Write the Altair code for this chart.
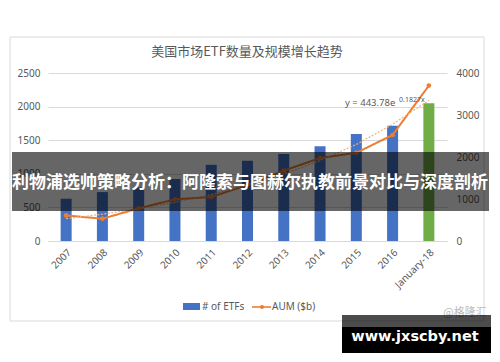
import altair as alt
import pandas as pd

categories = ["2007", "2008", "2009", "2010", "2011", "2012", "2013", "2014", "2015", "2016", "January-18"]
etfs = [629, 728, 797, 923, 1134, 1194, 1294, 1411, 1594, 1716, 2049]
aum = [608, 531, 777, 992, 1048, 1337, 1675, 1975, 2100, 2524, 3700]
trend = [532, 639, 767, 921, 1106, 1328, 1595, 1915, 2299, 2780, 3350]
bar_colors = ["#4472C4"] * 10 + ["#70AD47"]

df = pd.DataFrame({"cat": categories, "etfs": etfs, "aum": aum, "trend": trend, "color": bar_colors})
one = pd.DataFrame({"k": [0]})

FONT = "Noto Sans"
GRAY = "#595959"

xenc = alt.X("cat:N", sort=categories, title=None,
             scale=alt.Scale(paddingInner=0, paddingOuter=0),
             axis=alt.Axis(labelAngle=-45, labelColor=GRAY, labelFontSize=10, labelFont=FONT,
                           domainColor="#D9D9D9", ticks=False, labelPadding=6, grid=False))

bars = alt.Chart(df).mark_bar(size=11).encode(
    x=xenc,
    y=alt.Y("etfs:Q", title=None, scale=alt.Scale(domain=[0, 2500], nice=False),
            axis=alt.Axis(orient="left", values=[0, 500, 1000, 1500, 2000, 2500], format="d",
                          labelColor=GRAY, labelFontSize=10, labelFont=FONT, domain=False, ticks=False,
                          labelPadding=8, gridColor="#D9D9D9", grid=True)),
    color=alt.Color("color:N", scale=None),
)

right = alt.Chart(df).transform_fold(["aum", "trend"], as_=["series", "val"])

rax = alt.Axis(orient="right", values=list(range(0, 4001, 500)), format="d", labelColor=GRAY,
               labelFontSize=10, labelFont=FONT, domain=False, ticks=False, labelPadding=9, grid=False)

lines = right.mark_line().encode(
    x=alt.X("cat:N", sort=categories),
    y=alt.Y("val:Q", title=None, scale=alt.Scale(domain=[0, 4000], nice=False), axis=rax),
    color=alt.Color("series:N", scale=alt.Scale(domain=["aum", "trend"], range=["#ED7D31", "#F4B183"]), legend=None),
    strokeDash=alt.StrokeDash("series:N", scale=alt.Scale(domain=["aum", "trend"], range=[[1, 0], [2, 1.5]]), legend=None),
    strokeWidth=alt.StrokeWidth("series:N", scale=alt.Scale(domain=["aum", "trend"], range=[2, 1.2]), legend=None),
    order=alt.Order("series:N", sort="descending"),
)
pts = right.transform_filter(alt.datum.series == "aum").mark_circle(color="#ED7D31", size=22, opacity=1).encode(
    x=alt.X("cat:N", sort=categories),
    y=alt.Y("val:Q"),
)
right_layer = alt.layer(lines, pts)

main = alt.layer(bars, right_layer).resolve_scale(y="independent")

def rect(x, x2, y, y2, **kw):
    return alt.Chart(one).mark_rect(**kw).encode(x=alt.value(x), x2=alt.value(x2), y=alt.value(y), y2=alt.value(y2))

def text(t, x, y, **kw):
    return alt.Chart(one).mark_text(**kw).encode(x=alt.value(x), y=alt.value(y), text=alt.value(t))

border = rect(-38, 436, -36, 248, fill=None, stroke="#D9D9D9", strokeWidth=1)
title = text("美国市场ETF数量及规模增长趋势", 199, -21, font="Noto Sans CJK SC", fontSize=13, color=GRAY)
eq1 = text("y = 443.78e", 297, 30, font=FONT, fontSize=9.5, color=GRAY, align="left", baseline="middle")
eq2 = text("0.1827x", 351, 27, font=FONT, fontSize=7, color=GRAY, align="left", baseline="middle")

leg_rect = rect(135, 152, 230, 237, fill="#4472C4")
leg_t1 = text("# of ETFs", 154, 234, font=FONT, fontSize=10, color=GRAY, align="left", baseline="middle")
leg_line = rect(204, 223, 233.2, 234.8, fill="#ED7D31")
leg_dot = alt.Chart(one).mark_point(filled=True, color="#ED7D31", size=18, opacity=1).encode(
    x=alt.value(214), y=alt.value(234))
leg_t2 = text("AUM ($b)", 224, 234, font=FONT, fontSize=10, color=GRAY, align="left", baseline="middle")

banner = rect(-36, 441, 79, 138, fill="#000000", opacity=0.6)
banner_t = text("利物浦选帅策略分析：阿隆索与图赫尔执教前景对比与深度剖析", 202, 110,
                font="Noto Sans CJK SC", fontSize=17, fontWeight="bold", color="#FFFFFF",
                baseline="middle")

wm = text("@格隆汇", 417, 240, font="Noto Sans CJK SC", fontSize=11, color="#BBBBBB", baseline="middle")
box_top = rect(294, 443, 242, 254, fill="#000000", opacity=0.7)
box = rect(294, 443, 254, 280, fill="#000000")
box_t = text("www.jxscby.net", 367, 264, font="DejaVu Sans", fontSize=14.5, fontWeight="bold",
             color="#FFFFFF", baseline="middle")

chart = alt.layer(
    main, border, title, eq1, eq2, leg_rect, leg_t1, leg_line, leg_dot, leg_t2,
    banner, banner_t, wm, box_top, box, box_t
).properties(
    width=399, height=168,
    autosize=alt.AutoSizeParams(type="none"),
    padding={"left": 40, "top": 65, "right": 45, "bottom": 114},
).configure_view(stroke=None)

chart.save("out.html", embed_options={"renderer": "svg", "actions": False})
